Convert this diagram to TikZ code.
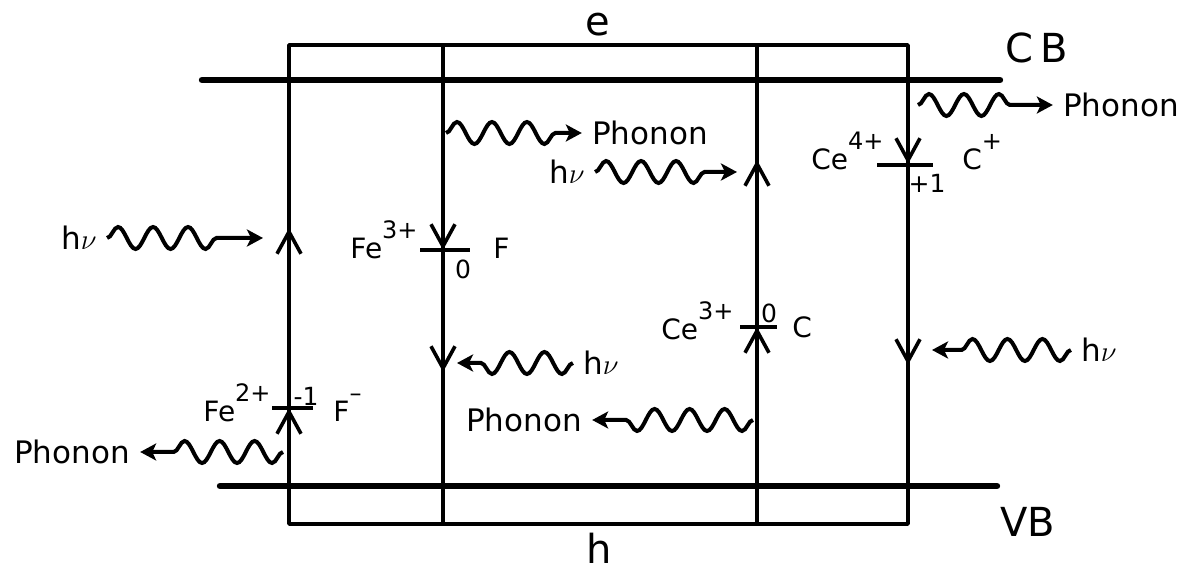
\documentclass[tikz,border=0pt]{standalone}
\usepackage{fontspec}
\setmainfont{DejaVu Sans}
\usetikzlibrary{arrows.meta,decorations.pathmorphing}
\newcommand{\arriba}[1]{\raisebox{10pt}{\fontsize{12}{14}\selectfont #1}}

\begin{document}
\begin{tikzpicture}[x=0.5pt,y=-0.5pt,
   caja/.style={line width=1.8pt,line join=round},
   banda/.style={line width=3.2pt,line cap=round},
   nivel/.style={line width=1.8pt},
   barba/.style={line width=1.8pt,-{Straight Barb[length=11pt,width=12pt]}},
   onda/.style={line width=2pt,decorate,
     decoration={snake,segment length=17.5pt,amplitude=5.5pt,post length=#1},
     -{Stealth[length=8pt,width=8.5pt,inset=2pt]}},
   onda/.default=12pt,
   rotulo/.style={inner xsep=5pt,inner ysep=1pt,font=\fontsize{15.5}{18}\selectfont},
   ion/.style={inner sep=0pt,font=\fontsize{14}{16}\selectfont},
   carga/.style={inner sep=0pt,font=\fontsize{12.5}{14}\selectfont},
   bandalbl/.style={inner sep=0pt,font=\fontsize{20}{24}\selectfont}]

  \useasboundingbox (0,0) rectangle (1189,571);

  % caja y columnas
  \draw[caja] (289,45) rectangle (908,524);
  \draw[caja] (443,45) -- (443,524);
  \draw[caja] (757,45) -- (757,524);

  % bandas
  \draw[banda] (202,80) -- (1000,80);
  \draw[banda] (220,486) -- (997,486);
  \node[bandalbl] (cb) at (1037,48) {C\,B};
  \node[bandalbl] (vb) at (1028,522) {VB};
  \node[bandalbl] (e) at (598,25) {e};
  \node[bandalbl] (h) at (599,548) {h};

  % flechas sobre las columnas
  \draw[barba] (289,260) -- (289,228);
  \draw[barba] (289,440) -- (289,408);
  \draw[barba] (443,220) -- (443,250);
  \draw[barba] (443,340) -- (443,372);
  \draw[barba] (757,190) -- (757,160);
  \draw[barba] (757,360) -- (757,327);
  \draw[barba] (908,130) -- (908,164);
  \draw[barba] (908,335) -- (908,365);

  % --- Fe3+ ---
  \draw[nivel] (420,250) -- (470,250);
  \node[ion,anchor=base east] (fe3) at (418,259) {Fe\arriba{3+}};
  \node[ion,anchor=base west] (f0) at (493,259) {F};
  \node[carga] (cero1) at (463,269) {0};

  % --- Ce4+ ---
  \draw[nivel] (877,165) -- (933,165);
  \node[ion,anchor=base east] (ce4) at (884,170) {Ce\arriba{4+}};
  \node[ion,anchor=base west] (cmas) at (962,170) {C\arriba{+}};
  \node[carga] (mas1) at (927,183) {+1};

  % --- Ce3+ ---
  \draw[nivel] (740,327) -- (777,327);
  \node[ion,anchor=base east] (ce3) at (734,340) {Ce\arriba{3+}};
  \node[ion,anchor=base west] (c0) at (792,338) {C};
  \node[carga] (cero2) at (769,313) {0};

  % --- Fe2+ ---
  \draw[nivel] (272,408) -- (313,408);
  \node[ion,anchor=base east] (fe2) at (271,422) {Fe\arriba{2+}};
  \node[ion,anchor=base west] (fmenos) at (333,422) {F\arriba{--}};
  \node[carga] (menos1) at (306,396) {-1};

  % --- ondas ---
  \node[rotulo] (hv1) at (79,238) {h$\nu$};
  \coordinate (a1) at (263,238);
  \draw[onda=21.5pt] (hv1) -- (a1);

  \coordinate (s1) at (446,133);
  \node[rotulo] (ph1) at (650,133) {Phonon};
  \draw[onda=13pt] (s1) -- (ph1);

  \node[rotulo] (hv2) at (567,172) {h$\nu$};
  \coordinate (a2) at (737,172);
  \draw[onda=12pt] (hv2) -- (a2);

  \coordinate (s2) at (918,105);
  \node[rotulo] (ph2) at (1121,105) {Phonon};
  \draw[onda=13.5pt] (s2) -- (ph2);

  \node[rotulo] (hv3) at (601,363) {h$\nu$};
  \coordinate (a3) at (457,363);
  \draw[onda=10.5pt] (hv3) -- (a3);

  \node[rotulo] (hv4) at (1099,350) {h$\nu$};
  \coordinate (a4) at (932,350);
  \draw[onda=14pt] (hv4) -- (a4);

  \coordinate (s3) at (283,452);
  \node[rotulo] (ph3) at (72,452) {Phonon};
  \draw[onda=16pt] (s3) -- (ph3);

  \coordinate (s4) at (753,420);
  \node[rotulo] (ph4) at (524,420) {Phonon};
  \draw[onda=16pt] (s4) -- (ph4);
\end{tikzpicture}
\end{document}
